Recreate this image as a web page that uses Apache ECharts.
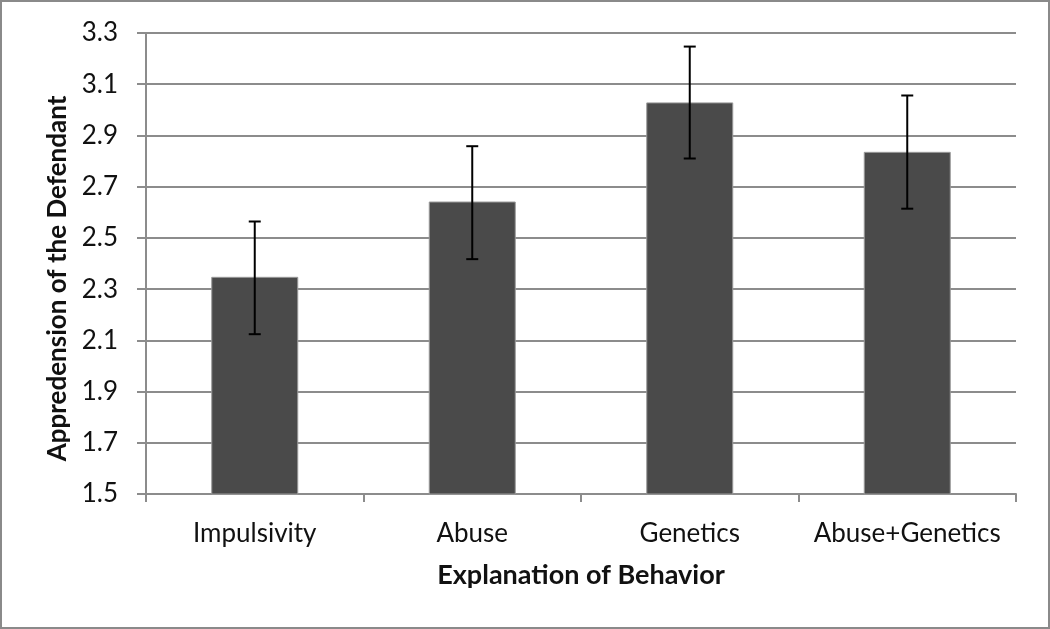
<!DOCTYPE html>
<html>
<head>
<meta charset="utf-8">
<script src="https://cdn.jsdelivr.net/npm/echarts@6/dist/echarts.min.js"></script>
<style>
html,body{margin:0;padding:0;background:#fff;}
#frame{position:absolute;left:0;top:0;width:1046px;height:625px;border:2px solid #8a8a8a;}
#chart{position:absolute;left:0;top:0;width:1050px;height:629px;}
</style>
</head>
<body>
<div id="frame"></div>
<div id="chart"></div>
<script>
const categories = ['Impulsivity', 'Abuse', 'Genetics', 'Abuse+Genetics'];
const means = [2.348, 2.642, 3.029, 2.836];
const errLow = [2.124, 2.417, 2.810, 2.614];
const errHigh = [2.564, 2.858, 3.247, 3.056];
const yMin = 1.5, yMax = 3.3, yStep = 0.2;

const FONT = 'Lato';
const chart = echarts.init(document.getElementById('chart'));
const errData = categories.map((c, i) => [i, errLow[i], errHigh[i]]);

chart.setOption({
  animation: false,
  backgroundColor: 'transparent',
  grid: {left: 146, right: 34, top: 33, bottom: 135, containLabel: false},
  xAxis: {
    type: 'category',
    data: categories,
    name: 'Explanation of Behavior',
    nameLocation: 'middle',
    nameGap: 68,
    nameTextStyle: {fontFamily: FONT, fontSize: 27, fontWeight: 'bold', color: '#111'},
    axisLine: {lineStyle: {color: '#8c8c8c', width: 2}},
    axisTick: {show: true, interval: 0, alignWithLabel: false, length: 8, lineStyle: {color: '#8c8c8c', width: 2}},
    axisLabel: {interval: 0, fontFamily: FONT, fontSize: 26, color: '#111', margin: 27}
  },
  yAxis: {
    type: 'value',
    min: yMin, max: yMax, interval: yStep,
    name: 'Appredension of the Defendant',
    nameLocation: 'middle',
    nameRotate: 90,
    nameGap: 74,
    nameTextStyle: {fontFamily: FONT, fontSize: 26, fontWeight: 'bold', color: '#111', padding: [0, 30, 0, 0]},
    axisLine: {show: true, lineStyle: {color: '#8c8c8c', width: 2}},
    axisTick: {show: true, length: 9, lineStyle: {color: '#8c8c8c', width: 2}},
    axisLabel: {fontFamily: FONT, fontSize: 26, color: '#111', margin: 28, formatter: v => v.toFixed(1)},
    splitLine: {show: true, lineStyle: {color: '#8c8c8c', width: 2}}
  },
  series: [
    {
      type: 'bar',
      data: means,
      barWidth: '40%',
      itemStyle: {color: '#4a4a4a', borderColor: '#9a9a9a', borderWidth: 1},
      z: 2
    },
    {
      type: 'custom',
      data: errData,
      z: 5,
      renderItem: function (params, api) {
        const x = api.value(0);
        const lo = api.coord([x, api.value(1)]);
        const hi = api.coord([x, api.value(2)]);
        const hw = 6;
        const style = {stroke: '#000', lineWidth: 2};
        return {
          type: 'group',
          children: [
            {type: 'line', shape: {x1: lo[0], y1: lo[1], x2: hi[0], y2: hi[1]}, style: style},
            {type: 'line', shape: {x1: lo[0] - hw, y1: lo[1], x2: lo[0] + hw, y2: lo[1]}, style: style},
            {type: 'line', shape: {x1: hi[0] - hw, y1: hi[1], x2: hi[0] + hw, y2: hi[1]}, style: style}
          ]
        };
      }
    }
  ]
});
</script>
</body>
</html>
